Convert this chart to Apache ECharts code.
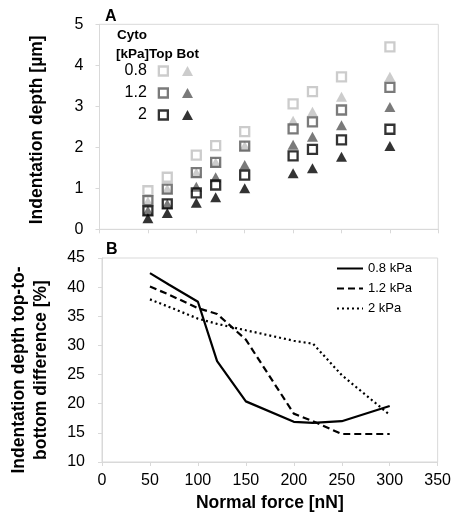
<!DOCTYPE html>
<html>
<head>
<meta charset="utf-8">
<script src="https://cdn.jsdelivr.net/npm/echarts@6/dist/echarts.min.js"></script>
<style>html,body{margin:0;padding:0;background:#fff}#c{width:454px;height:516px}</style>
</head>
<body>
<div id="c"></div>
<script>
// Panel A: indentation depth [µm] vs normal force [nN]
const forces = [50, 70, 100, 120, 150, 200, 220, 250, 300];
const top08 = [0.94, 1.27, 1.81, 2.04, 2.38, 3.06, 3.36, 3.72, 4.45];
const bot08 = [0.68, 0.98, 1.38, 1.63, 2.03, 2.65, 2.87, 3.23, 3.72];
const top12 = [0.70, 0.98, 1.38, 1.63, 2.03, 2.45, 2.62, 2.91, 3.46];
const bot12 = [0.45, 0.62, 1.04, 1.27, 1.57, 2.06, 2.26, 2.54, 2.98];
const top2  = [0.45, 0.62, 0.89, 1.08, 1.32, 1.79, 1.95, 2.18, 2.44];
const bot2  = [0.27, 0.40, 0.65, 0.78, 1.00, 1.37, 1.49, 1.77, 2.03];
const cytoLabels = ['0.8', '1.2', '2'];

// Panel B: top-to-bottom difference [%]
const diff08 = [42.4, 40.4, 37.5, 27.3, 20.4, 16.9, 16.7, 17.0, 19.6];
const diff12 = [40.1, 38.7, 36.4, 35.4, 31.0, 18.3, 17.0, 14.8, 14.8];
const diff2  = [37.9, 36.6, 34.6, 33.7, 32.6, 30.8, 30.3, 24.9, 18.1];
const lineNames = ['0.8 kPa', '1.2 kPa', '2 kPa'];

const xTicks = [0, 50, 100, 150, 200, 250, 300, 350];
const yTicksA = [0, 1, 2, 3, 4, 5];
const yTicksB = [10, 15, 20, 25, 30, 35, 40, 45];

const FONT = 'Liberation Sans';
const grey = '#d9d9d9';
const colors = ['#bfbfbf', '#595959', '#000000'];

function pairs(ys) { return forces.map((x, i) => [x, ys[i]]); }

const axisCommon = {
  axisLine: { show: true, lineStyle: { color: grey, width: 1 } },
  axisTick: { show: true, length: 4, lineStyle: { color: grey } },
  splitLine: { show: false }
};

const tops = [top08, top12, top2];
const bots = [bot08, bot12, bot2];
const series = [];
for (let k = 0; k < 3; k++) {
  series.push({
    name: cytoLabels[k], type: 'scatter', xAxisIndex: 0, yAxisIndex: 0,
    symbol: 'rect', symbolSize: 9,
    itemStyle: { color: 'transparent', borderColor: colors[k], borderWidth: 2.3 },
    data: pairs(tops[k]), z: 3 + 2 * k
  });
  series.push({
    name: cytoLabels[k] + ' Bot', type: 'scatter', xAxisIndex: 0, yAxisIndex: 0,
    symbol: 'triangle', symbolSize: [11, 10],
    itemStyle: { color: colors[k] },
    data: pairs(bots[k]), z: 2 + 2 * k
  });
}
const diffs = [diff08, diff12, diff2];
const dashTypes = ['solid', [7, 4], [2, 3]];
for (let k = 0; k < 3; k++) {
  series.push({
    name: lineNames[k], type: 'line', xAxisIndex: 1, yAxisIndex: 1,
    symbol: 'none', smooth: false,
    lineStyle: { color: '#000', width: 2.2, type: dashTypes[k] },
    itemStyle: { color: '#000' },
    data: pairs(diffs[k])
  });
}

const option = {
  animation: false,
  backgroundColor: '#fff',
  textStyle: { fontFamily: FONT },
  title: [
    { text: 'A', left: 105, top: 9, padding: 0, textStyle: { fontFamily: FONT, fontSize: 16, fontWeight: 'bold', color: '#000' } },
    { text: 'B', left: 106, top: 242, padding: 0, textStyle: { fontFamily: FONT, fontSize: 16, fontWeight: 'bold', color: '#000' } },
    { text: 'Cyto', left: 117, top: 28, padding: 0, textStyle: { fontFamily: FONT, fontSize: 13.5, fontWeight: 'bold', color: '#000' } },
    { text: '[kPa]Top Bot', left: 116, top: 47, padding: 0, textStyle: { fontFamily: FONT, fontSize: 13.5, fontWeight: 'bold', color: '#000' } }
  ],
  legend: [
    {
      data: cytoLabels, orient: 'vertical', align: 'right', right: 285, top: 63, padding: 0,
      itemWidth: 9, itemHeight: 9, itemGap: 6, selectedMode: false,
      itemStyle: { borderWidth: 2.3 },
      textStyle: { fontFamily: FONT, fontSize: 16, color: '#000', padding: [0, 7, 0, 0] }
    },
    {
      data: cytoLabels.map(s => s + ' Bot'), orient: 'vertical', left: 182, top: 63, padding: 0,
      itemWidth: 11, itemHeight: 10, itemGap: 6, selectedMode: false,
      formatter: () => ' ',
      textStyle: { fontFamily: FONT, fontSize: 16, color: '#000' }
    },
    {
      data: lineNames, orient: 'vertical', left: 336, top: 262, padding: 0,
      itemWidth: 26, itemHeight: 10, itemGap: 7, selectedMode: false,
      itemStyle: { color: 'transparent', borderColor: 'transparent', borderWidth: 0, opacity: 0 },
      textStyle: { fontFamily: FONT, fontSize: 13, color: '#000' }
    }
  ],
  grid: [
    { left: 99.5, right: 15.7, top: 24.3, height: 205, show: true, borderColor: grey, borderWidth: 1, backgroundColor: 'transparent' },
    { left: 99.5, right: 15.7, top: 258, height: 204, show: true, borderColor: grey, borderWidth: 1, backgroundColor: 'transparent' }
  ],
  xAxis: [
    Object.assign({ type: 'value', gridIndex: 0, min: xTicks[0], max: xTicks[xTicks.length - 1], interval: 50,
      axisLabel: { show: false } }, axisCommon),
    Object.assign({ type: 'value', gridIndex: 1, min: xTicks[0], max: xTicks[xTicks.length - 1], interval: 50,
      axisLabel: { show: true, margin: 11, fontFamily: FONT, fontSize: 16, color: '#000' },
      name: 'Normal force [nN]', nameLocation: 'middle', nameGap: 32,
      nameTextStyle: { fontFamily: FONT, fontSize: 17.5, fontWeight: 'bold', color: '#000' } }, axisCommon)
  ],
  yAxis: [
    Object.assign({ type: 'value', gridIndex: 0, min: yTicksA[0], max: yTicksA[yTicksA.length - 1], interval: 1,
      axisLabel: { margin: 16, fontFamily: FONT, fontSize: 16, color: '#000' },
      name: 'Indentation depth [µm]', nameLocation: 'middle', nameGap: 53,
      nameTextStyle: { fontFamily: FONT, fontSize: 17.5, fontWeight: 'bold', color: '#000', padding: [0, 6, 0, 0] } }, axisCommon),
    Object.assign({ type: 'value', gridIndex: 1, min: yTicksB[0], max: yTicksB[yTicksB.length - 1], interval: 5,
      axisLabel: { margin: 17, fontFamily: FONT, fontSize: 16, color: '#000' },
      name: 'Indentation depth top-to-\nbottom difference [%]', nameLocation: 'middle', nameGap: 50,
      nameTextStyle: { fontFamily: FONT, fontSize: 17.5, fontWeight: 'bold', color: '#000', lineHeight: 22, padding: [0, 20, 0, 0] } }, axisCommon)
  ],
  series: series
};

const chart = echarts.init(document.getElementById('c'), null, { renderer: 'canvas' });
chart.setOption(option);
</script>
</body>
</html>
